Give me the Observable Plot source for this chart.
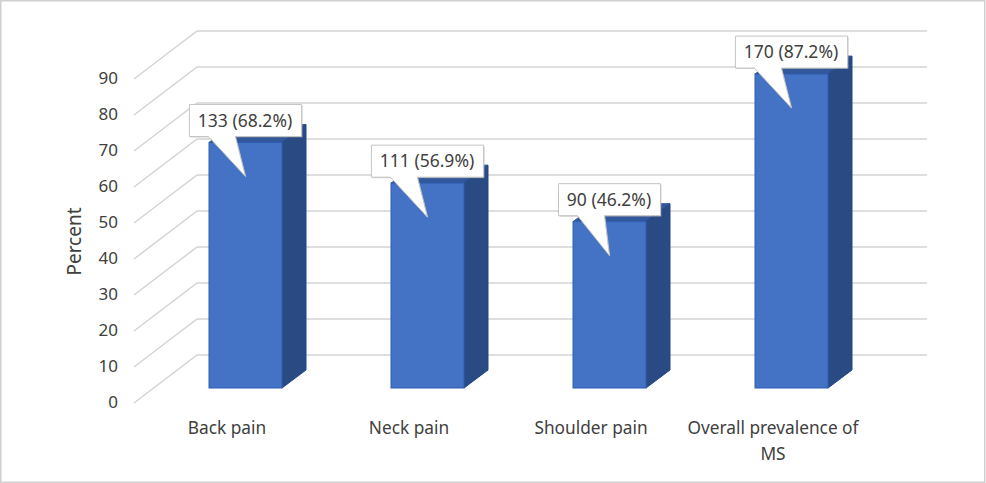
<!DOCTYPE html>
<html>
<head>
<meta charset="utf-8">
<style>html,body{margin:0;padding:0;background:#fff;overflow:hidden}</style>
<script src="https://cdn.jsdelivr.net/npm/d3@7"></script>
<script src="https://cdn.jsdelivr.net/npm/@observablehq/plot@0.6"></script>
</head>
<body>
<div id="chart"></div>
<script>
const categories = ["Back pain", "Neck pain", "Shoulder pain", "Overall prevalence of MS"];
const percents = [68.2, 56.9, 46.2, 87.2];
const counts = [133, 111, 90, 170];
const yTicks = [0, 10, 20, 30, 40, 50, 60, 70, 80, 90];

const rows = categories.map((c, i) => ({
  category: c, percent: percents[i], count: counts[i],
  label: `${counts[i]} (${percents[i].toFixed(1)}%)`
}));

const ink = "#404040", font = "'Noto Sans', sans-serif";
const NS = "http://www.w3.org/2000/svg";
const el = (name, attrs) => {
  const e = document.createElementNS(NS, name);
  for (const k in attrs) e.setAttribute(k, attrs[k]);
  return e;
};
const poly = pts => pts.map(p => p.join(",")).join(" ");
const bandOf = s => typeof s.x.bandwidth === "function" ? s.x.bandwidth() : s.x.bandwidth;
// projection of the 3D box
const barDepth = [24, -18];
const wallFront = [-19.5, 15], wallBack = [43.5, -33];

const frameMark = (i, s, v, d) => {
  const g = el("g", {});
  g.append(el("rect", {x: 0.75, y: 0.75, width: d.width - 2, height: d.height - 1.5, fill: "none", stroke: "#d0d0d0", "stroke-width": 1.5}));
  return g;
};
const wallGrid = (i, s, v, d) => {
  const g = el("g", {fill: "none", stroke: "#d4d4d4", "stroke-width": 1.5});
  const x0 = d.marginLeft;
  const x1 = d.width - d.marginRight + 44.5;
  for (const t of yTicks) {
    const y = s.y(t);
    g.append(el("polyline", {points: poly([
      [x0 + wallFront[0], y + wallFront[1]],
      [x0 + wallBack[0], y + wallBack[1]],
      [x1, y + wallBack[1]]
    ])}));
  }
  return g;
};
const barFaces = (i, s) => {
  const g = el("g", {"stroke-width": 1, "stroke-linejoin": "round"});
  const [dx, dy] = barDepth;
  const w = bandOf(s);
  for (const r of rows) {
    const l = s.x(r.category), R = l + w, t = s.y(r.percent), b = s.y(0);
    g.append(el("polygon", {points: poly([[l, t], [R, t], [R + dx, t + dy], [l + dx, t + dy]]), fill: "#33579b", stroke: "#33579b"}));
    g.append(el("polygon", {points: poly([[R, t], [R + dx, t + dy], [R + dx, b + dy], [R, b]]), fill: "#294a82", stroke: "#23478c"}));
  }
  return g;
};
const callouts = (i, s) => {
  const g = el("g", {});
  const w = bandOf(s);
  for (const r of rows) {
    const c = s.x(r.category) + w / 2, t = s.y(r.percent);
    const bw = r.label.length * 10.2, left = c - bw / 2, top = t - 38, bottom = t - 6;
    const pts = [[left, top], [left + bw, top], [left + bw, bottom], [left + 46, bottom],
                 [c, t + 34], [left + 19, bottom], [left, bottom]];
    g.append(el("polygon", {points: poly(pts.map(p => [p[0] + 1, p[1] + 1])), fill: "#a8a8a8", opacity: 0.5}));
    g.append(el("polygon", {points: poly(pts), fill: "#fff", stroke: "#c4c4c4", "stroke-width": 1}));
  }
  return g;
};

const chart = Plot.plot({
  width: 986, height: 483,
  marginTop: 64, marginBottom: 95, marginLeft: 153.5, marginRight: 103.5,
  style: {fontFamily: font, fontSize: "16px", color: ink, background: "#fff"},
  x: {domain: categories, paddingInner: 0.6, paddingOuter: 0.3, label: null},
  y: {domain: [0, 90], label: null},
  marks: [
    frameMark,
    wallGrid,
    Plot.axisY({ticks: yTicks, tickSize: 0, tickPadding: 36, dy: 14, label: null, fill: ink, fontSize: 17}),
    Plot.text(["Percent"], {text: d => d, frameAnchor: "left", textAnchor: "middle", rotate: -90, dx: -79, dy: 15, fill: ink, fontSize: 19}),
    Plot.axisX({tickSize: 0, tickPadding: 27, dx: -19, lineWidth: 11, lineHeight: 1.5, fill: ink, label: null, fontSize: 17.3}),
    barFaces,
    Plot.barY(rows, {x: "category", y: "percent", fill: "#4472c4", stroke: "#2f5fb3", strokeWidth: 1}),
    callouts,
    Plot.text(rows, {x: "category", y: "percent", text: "label", dx: -1, dy: -22, fill: ink, fontSize: 17.5})
  ]
});
document.getElementById("chart").append(chart);
</script>
</body>
</html>
